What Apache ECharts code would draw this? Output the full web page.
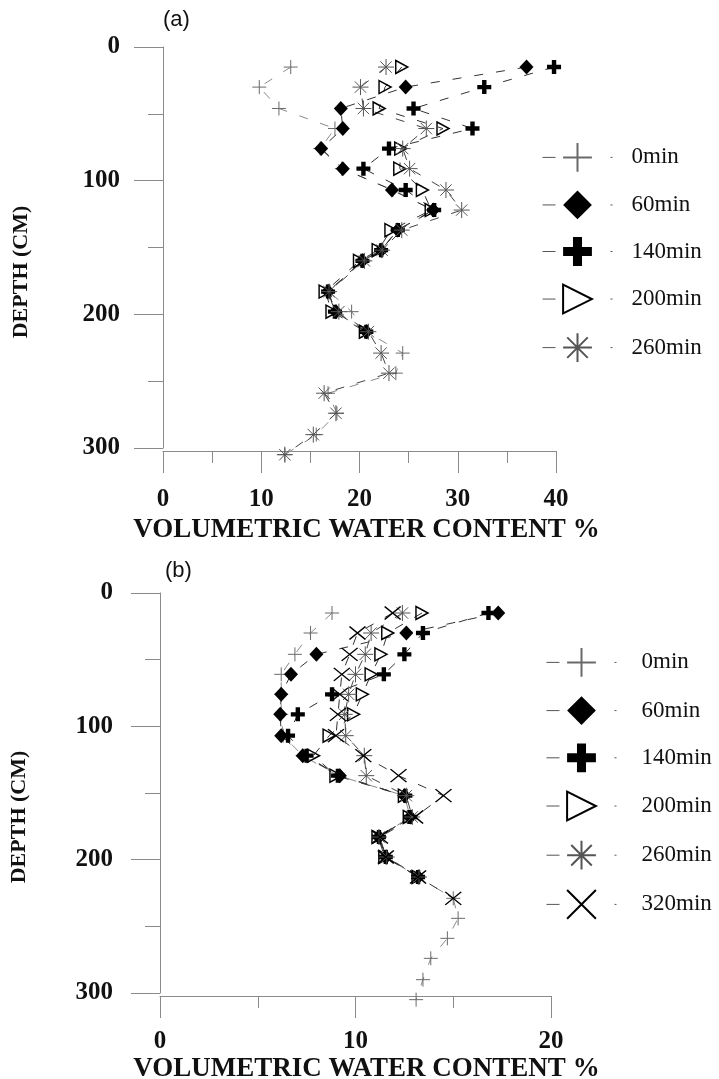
<!DOCTYPE html>
<html>
<head>
<meta charset="utf-8">
<title>Volumetric water content profiles</title>
<script src="https://cdn.jsdelivr.net/npm/echarts@6/dist/echarts.min.js"></script>
<style>
  html, body { margin: 0; padding: 0; background: #fff; }
  #chart { width: 719px; height: 1079px; }
</style>
</head>
<body>
<div id="chart"></div>
<script>
// Depths of the measurement points (cm)
const depthA = [15, 30, 46, 61, 76, 91, 107, 122, 137, 152, 160, 183, 198, 213, 229, 244, 259, 274, 290, 305];
const depthB = [15, 30, 46, 61, 76, 91, 107, 122, 137, 152, 168, 183, 198, 213, 229, 244, 259, 274, 290, 305];

// Panel (a): volumetric water content (%) after each elapsed time
const a0   = [13.0, 9.8, 11.8, 17.5, 16.0, 18.2, 23.4, 27.5, 23.8, 22.2, 20.4, 16.9, 19.2, 20.7, 24.4, 23.7, 16.8, 17.7, 15.6, 12.4];
const a60  = [37.0, 24.7, 18.1, 18.3, 16.1, 18.3, 23.3, 27.5, 23.9, 22.2, 20.3, 16.8, 17.6, 20.7];
const a140 = [39.8, 32.7, 25.5, 31.5, 23.0, 20.4, 24.7, 27.6, 23.9, 22.2, 20.3, 16.8, 17.5, 20.7];
const a200 = [24.3, 22.6, 22.0, 28.5, 24.2, 24.1, 26.4, 27.3, 23.2, 21.9, 20.0, 16.5, 17.2, 20.6];
const a260 = [22.7, 20.1, 20.4, 26.8, 24.4, 25.1, 28.8, 30.4, 24.3, 22.3, 20.5, 16.9, 17.9, 20.9, 22.2, 23.0, 16.4, 17.6, 15.3, 12.4];

// Panel (b)
const b0   = [8.8, 7.7, 6.9, 6.2, 6.2, 6.2, 6.3, 7.3, 9.1, 12.5, 12.8, 11.2, 11.55, 13.2, 15.0, 15.25, 14.7, 13.85, 13.45, 13.1];
const b60  = [17.3, 12.6, 8.0, 6.7, 6.2, 6.15, 6.2, 7.3, 9.2, 12.5, 12.8, 11.2, 11.55, 13.2];
const b140 = [16.8, 13.45, 12.5, 11.45, 8.8, 7.05, 6.55, 7.5, 9.1, 12.55, 12.8, 11.2, 11.55, 13.2];
const b200 = [13.4, 11.65, 11.3, 10.8, 10.35, 9.9, 8.65, 7.85, 9.0, 12.5, 12.75, 11.15, 11.5, 13.2];
const b260 = [12.4, 10.8, 10.5, 10.0, 9.65, 9.45, 9.5, 10.45, 10.55, 12.6, 12.9, 11.2, 11.6, 13.25];
const b320 = [11.9, 10.1, 9.7, 9.3, 9.2, 9.1, 9.0, 10.4, 12.2, 14.5, 13.05, 11.25, 11.55, 13.2, 15.0];

// Axis ticks
const depthTicks = [0, 100, 200, 300];
const xTicksA = [0, 10, 20, 30, 40];
const xTicksB = [0, 10, 20];

const namesA = ['0min', '60min', '140min', '200min', '260min'];
const namesB = ['0min', '60min', '140min', '200min', '260min', '320min'];

// Marker styles per elapsed time
const CLEAR = 'rgba(255,255,255,0)';
const STYLE = {
  '0min':   { symbol: 'path://M0,-7L0,7M-7,0L7,0', size: 14,
              item: { color: CLEAR, borderColor: '#6a6a6a', borderWidth: 1 }, line: '#8a8a8a' },
  '60min':  { symbol: 'diamond', size: [14, 15],
              item: { color: '#000' }, line: '#333' },
  '140min': { symbol: 'path://M-2.2,-7L2.2,-7L2.2,-2.2L7,-2.2L7,2.2L2.2,2.2L2.2,7L-2.2,7L-2.2,2.2L-7,2.2L-7,-2.2L-2.2,-2.2Z', size: 14,
              item: { color: '#000' }, line: '#333' },
  '200min': { symbol: 'path://M-5,-6L6,0L-5,6Z', size: [12, 13],
              item: { color: CLEAR, borderColor: '#000', borderWidth: 1.5 }, line: '#333' },
  '260min': { symbol: 'path://M0,-8L0,8M-8,0L8,0M-5.7,-5.7L5.7,5.7M-5.7,5.7L5.7,-5.7', size: 16,
              item: { color: CLEAR, borderColor: '#555', borderWidth: 1 }, line: '#444' },
  '320min': { symbol: 'path://M-7,-6L7,6M-7,6L7,-6', size: [16, 13],
              item: { color: CLEAR, borderColor: '#000', borderWidth: 1.4 }, line: '#333' }
};

function profile(name, values, depths, panel) {
  const s = STYLE[name];
  return {
    name: name,
    type: 'line',
    xAxisIndex: panel,
    yAxisIndex: panel,
    data: values.map((v, i) => [v, depths[i]]),
    symbol: s.symbol,
    symbolSize: s.size,
    itemStyle: s.item,
    lineStyle: { color: s.line, width: 1, type: [9, 13] },
    clip: false,
    emphasis: { disabled: true },
    animation: false
  };
}

const SERIF = '"Liberation Serif", "Times New Roman", serif';
const axisGrey = { color: '#8a8a8a', width: 1 };

function xAxisFor(panel, ticks, gap, labelMargin, namePad) {
  return {
    gridIndex: panel,
    type: 'value',
    min: ticks[0],
    max: ticks[ticks.length - 1],
    interval: ticks[1] - ticks[0],
    offset: 3,
    axisLine: { onZero: false, lineStyle: axisGrey },
    axisTick: { show: true, length: 22, lineStyle: axisGrey },
    minorTick: { show: true, splitNumber: 2, length: 12, lineStyle: axisGrey },
    splitLine: { show: false },
    minorSplitLine: { show: false },
    axisLabel: { margin: labelMargin, fontFamily: SERIF, fontWeight: 'bold', fontSize: 25, color: '#111' },
    name: 'VOLUMETRIC WATER CONTENT %',
    nameLocation: 'middle',
    nameGap: gap,
    nameTextStyle: { fontFamily: SERIF, fontWeight: 'bold', fontSize: 27, color: '#111', padding: [0, 0, 0, namePad] }
  };
}

function yAxisFor(panel, labelMargin) {
  return {
    gridIndex: panel,
    type: 'value',
    inverse: true,
    min: depthTicks[0],
    max: depthTicks[depthTicks.length - 1],
    interval: depthTicks[1] - depthTicks[0],
    axisLine: { onZero: false, lineStyle: axisGrey },
    axisTick: { show: true, length: 29, lineStyle: axisGrey },
    minorTick: { show: true, splitNumber: 2, length: 15, lineStyle: axisGrey },
    splitLine: { show: false },
    minorSplitLine: { show: false },
    axisLabel: { margin: labelMargin, fontFamily: SERIF, fontWeight: 'bold', fontSize: 25, color: '#111' }
  };
}

function legendFor(names, left, top, gap, textPad) {
  return {
    orient: 'vertical',
    left: left,
    top: top,
    itemWidth: 70,
    itemHeight: 36,
    itemGap: gap,
    selectedMode: false,
    data: names,
    lineStyle: { type: [13, 55], width: 1, color: '#555' },
    textStyle: { fontFamily: SERIF, fontSize: 23, color: '#111', padding: [0, 0, 0, textPad] }
  };
}

const chart = echarts.init(document.getElementById('chart'), null, { renderer: 'canvas' });

chart.setOption({
  backgroundColor: '#fff',
  animation: false,
  grid: [
    { left: 163, top: 47, width: 393, height: 401, outerBoundsMode: 'none' },
    { left: 160, top: 593, width: 391, height: 400, outerBoundsMode: 'none' }
  ],
  xAxis: [
    xAxisFor(0, xTicksA, 66, 36, 14),
    xAxisFor(1, xTicksB, 60, 33, 22)
  ],
  yAxis: [
    yAxisFor(0, 43),
    yAxisFor(1, 47)
  ],
  legend: [
    legendFor(namesA, 537, 137, 17.75, 14),
    legendFor(namesB, 541, 642, 18.4, 20)
  ],
  graphic: [
    { type: 'text', left: 163, top: 9, style: { text: '(a)', font: '22px "Liberation Sans", Arial, sans-serif', fill: '#111' } },
    { type: 'text', left: 165, top: 560, style: { text: '(b)', font: '22px "Liberation Sans", Arial, sans-serif', fill: '#111' } },
    { type: 'text', x: 21, y: 272, rotation: Math.PI / 2,
      style: { text: 'DEPTH (CM)', font: 'bold 22px "Liberation Serif", serif', fill: '#111', textAlign: 'center', textVerticalAlign: 'middle' } },
    { type: 'text', x: 19, y: 817, rotation: Math.PI / 2,
      style: { text: 'DEPTH (CM)', font: 'bold 22px "Liberation Serif", serif', fill: '#111', textAlign: 'center', textVerticalAlign: 'middle' } }
  ],
  series: [
    profile('0min', a0, depthA, 0),
    profile('60min', a60, depthA, 0),
    profile('140min', a140, depthA, 0),
    profile('200min', a200, depthA, 0),
    profile('260min', a260, depthA, 0),
    profile('0min', b0, depthB, 1),
    profile('60min', b60, depthB, 1),
    profile('140min', b140, depthB, 1),
    profile('200min', b200, depthB, 1),
    profile('260min', b260, depthB, 1),
    profile('320min', b320, depthB, 1)
  ]
});
</script>
</body>
</html>
